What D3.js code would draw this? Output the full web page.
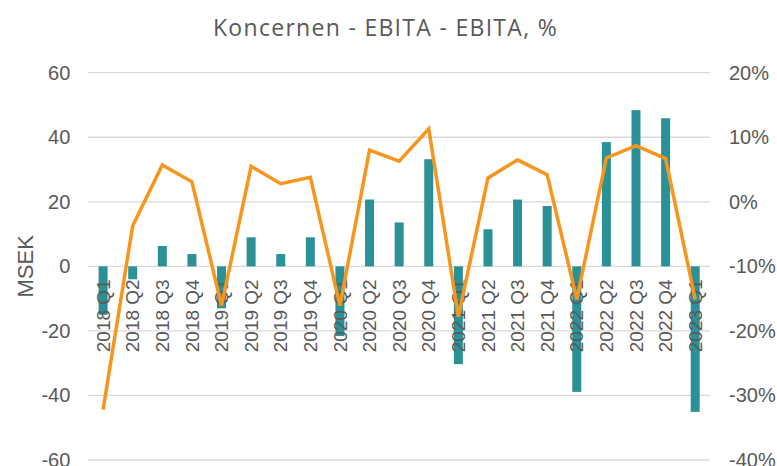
<!DOCTYPE html>
<html>
<head>
<meta charset="utf-8">
<script src="https://cdn.jsdelivr.net/npm/d3@7"></script>
<style>
  html, body { margin: 0; padding: 0; background: #fff; }
  svg { display: block; }
</style>
</head>
<body>
<svg id="chart" width="777" height="466"></svg>
<script>
const categories = ["2018 Q1","2018 Q2","2018 Q3","2018 Q4","2019 Q1","2019 Q2","2019 Q3","2019 Q4",
  "2020 Q1","2020 Q2","2020 Q3","2020 Q4","2021 Q1","2021 Q2","2021 Q3","2021 Q4",
  "2022 Q1","2022 Q2","2022 Q3","2022 Q4","2023 Q1"];
const ebita = [-15, -4, 6.3, 3.8, -13, 9, 3.8, 9, -21.6, 20.7, 13.6, 33.2, -30.3, 11.5, 20.7, 18.7, -38.9, 38.5, 48.4, 45.9, -45.1];
const ebitaPct = [-32.2, -3.7, 5.7, 3.1, -16.1, 5.5, 2.8, 3.8, -16.1, 8.0, 6.3, 11.3, -17.8, 3.7, 6.5, 4.2, -15.1, 6.8, 8.7, 6.7, -15.1];
const leftTicks = [-60, -40, -20, 0, 20, 40, 60];
const leftTickLabels = ["-60", "-40", "-20", "0", "20", "40", "60"];
const rightTicks = [-40, -30, -20, -10, 0, 10, 20];
const rightTickLabels = ["-40%", "-30%", "-20%", "-10%", "0%", "10%", "20%"];
const title = "Koncernen - EBITA - EBITA, %";
const yLabel = "MSEK";

const svg = d3.select("#chart");
const L = 88.3, R = 710, T = 72.7, B = 460;
const textColor = "#595959";
const tickFont = "Liberation Sans, Arial, sans-serif";

const x = d3.scaleBand().domain(categories).range([L, R]).paddingInner(0).paddingOuter(0);
const y = d3.scaleLinear().domain([-60, 60]).range([B, T]);
const y2 = d3.scaleLinear().domain([-40, 20]).range([B, T]);

// gridlines
svg.append("g").selectAll("line").data(leftTicks).join("line")
  .attr("x1", L).attr("x2", R)
  .attr("y1", d => y(d)).attr("y2", d => y(d))
  .attr("stroke", "#d9d9d9").attr("stroke-width", 1.3);

// left axis
const leftAxis = svg.append("g").attr("transform", `translate(${L},0)`)
  .call(d3.axisLeft(y).tickValues(leftTicks).tickSize(0).tickPadding(18)
    .tickFormat((d, i) => leftTickLabels[i]));
leftAxis.select(".domain").remove();
leftAxis.selectAll("text").attr("font-family", tickFont).attr("font-size", 20).attr("fill", textColor);

// right axis
const rightAxis = svg.append("g").attr("transform", `translate(${R},0)`)
  .call(d3.axisRight(y2).tickValues(rightTicks).tickSize(0).tickPadding(19)
    .tickFormat((d, i) => rightTickLabels[i]));
rightAxis.select(".domain").remove();
rightAxis.selectAll("text").attr("font-family", tickFont).attr("font-size", 20).attr("fill", textColor);

// bars
const bw = 9;
svg.append("g").selectAll("rect").data(categories).join("rect")
  .attr("x", (d) => x(d) + x.bandwidth() / 2 - bw / 2)
  .attr("width", bw)
  .attr("y", (d, i) => Math.min(y(0), y(ebita[i])))
  .attr("height", (d, i) => Math.abs(y(ebita[i]) - y(0)))
  .attr("fill", "#2a9196");

// category labels
svg.append("g").selectAll("text").data(categories).join("text")
  .attr("transform", d => `translate(${x(d) + x.bandwidth() / 2},${y(0) + 13}) rotate(-90)`)
  .attr("text-anchor", "end")
  .attr("dy", "0.35em")
  .attr("font-family", tickFont).attr("font-size", 19).attr("fill", textColor)
  .text(d => d);

// line
const line = d3.line()
  .x((d, i) => x(categories[i]) + x.bandwidth() / 2)
  .y(d => y2(d));
svg.append("path").datum(ebitaPct)
  .attr("d", line)
  .attr("fill", "none")
  .attr("stroke", "#f7961e")
  .attr("stroke-width", 3.5)
  .attr("stroke-linejoin", "miter");

// title
svg.append("text")
  .attr("x", 385.5).attr("y", 36)
  .attr("text-anchor", "middle")
  .attr("font-family", "Open Sans, Noto Sans, sans-serif")
  .attr("font-size", 23)
  .attr("letter-spacing", 1.3)
  .attr("fill", textColor)
  .text(title);

// y label
svg.append("text")
  .attr("transform", `translate(33,${(T + B) / 2}) rotate(-90)`)
  .attr("text-anchor", "middle")
  .attr("font-family", tickFont).attr("font-size", 22).attr("fill", textColor)
  .text(yLabel);
</script>
</body>
</html>
